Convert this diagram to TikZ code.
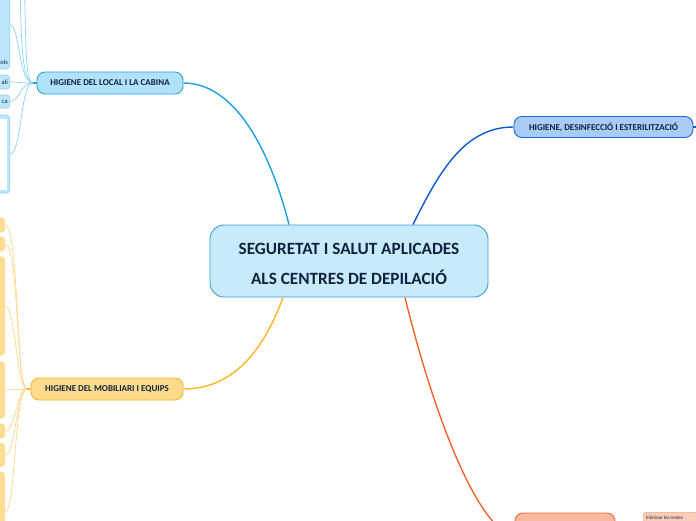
\documentclass[tikz,border=0pt]{standalone}
\usepackage{fontspec}
\setmainfont{Carlito}
\definecolor{cenfill}{HTML}{C8EBFB}
\definecolor{cenline}{HTML}{3D9ED8}
\definecolor{txt}{HTML}{10223F}
\definecolor{lbfill}{HTML}{B2E2FA}
\definecolor{lbline}{HTML}{2AA6E3}
\definecolor{lbconn}{HTML}{1BA1E2}
\definecolor{lbchild}{HTML}{8ED3F5}
\definecolor{lbcfill}{HTML}{BCE6FB}
\definecolor{yfill}{HTML}{FFDC8C}
\definecolor{yline}{HTML}{F8B62C}
\definecolor{yconn}{HTML}{FCB827}
\definecolor{ychild}{HTML}{FDD98E}
\definecolor{ycfill}{HTML}{FEDC92}
\definecolor{bfill}{HTML}{A8CCF6}
\definecolor{bline}{HTML}{1D6AD8}
\definecolor{bconn}{HTML}{0E5BD0}
\definecolor{ofill}{HTML}{FAB9A1}
\definecolor{oline}{HTML}{F26A3B}
\definecolor{oconn}{HTML}{F2642F}
\definecolor{ocfill}{HTML}{FBCDBB}
\tikzset{
  central/.style={draw=cenline, fill=cenfill, line width=0.9pt, rounded corners=14pt, text=txt, font=\bfseries\fontsize{17.2}{30.5}\selectfont, align=center, minimum width=278pt, minimum height=72pt, inner sep=0pt},
  branch/.style={rounded corners=8pt, line width=0.9pt, text=txt, font=\bfseries\fontsize{9}{10}\selectfont, minimum height=22pt, inner sep=0pt},
  mainconn/.style={line width=1.4pt},
  childconn/.style={line width=0.7pt},
  childbox/.style={rounded corners=3pt, line width=0.6pt},
  frag/.style={text=txt, font=\fontsize{6.5}{7}\selectfont, inner sep=0pt, anchor=east}
}
\begin{document}
\begin{tikzpicture}[x=1pt,y=-1pt]
\useasboundingbox (0,0) rectangle (696,520);
\clip (0,0) rectangle (696,520);
\fill[white] (0,0) rectangle (696,520);

% ---- main nodes
\node[central] (cen) at (349,261) {};
\node[text=txt, font=\bfseries\fontsize{17.2}{30.5}\selectfont, align=center, inner sep=0pt] (centxt) at (349,264) {SEGURETAT I SALUT APLICADES\\ALS CENTRES DE DEPILACIÓ};
\node[branch, draw=lbline, fill=lbfill, minimum width=146pt] (loc) at (110,83) {HIGIENE DEL LOCAL I LA CABINA};
\node[branch, draw=yline, fill=yfill, minimum width=152pt] (mob) at (107,389) {HIGIENE DEL MOBILIARI I EQUIPS};
\node[branch, draw=bline, fill=bfill, minimum width=179pt, minimum height=21pt] (des) at (603.5,127) {HIGIENE, DESINFECCIÓ I ESTERILITZACIÓ};
\node[branch, draw=oline, fill=ofill, minimum width=100pt, minimum height=44pt] (ora) at (565,535) {};

% ---- main connectors
\draw[mainconn, lbconn] ([xshift=-60pt]cen.north) .. controls (270,150) and (235,83) .. (loc.east);
\draw[mainconn, yconn] ([xshift=-66pt]cen.south) .. controls (262,355) and (230,389) .. (mob.east);
\draw[mainconn, bconn] ([xshift=64pt]cen.north) .. controls (440,170) and (465,127) .. (des.west);
\draw[mainconn, oconn] ([xshift=56pt]cen.south) .. controls (440,440) and (485,535) .. (ora.west);
\draw[mainconn, bconn] (des.east) -- ++(5,0);

% ---- left blue children
\coordinate (lj) at (33,83);
\draw[line width=1.3pt, lbconn] (loc.west) -- (lj);
\node[childbox, draw=lbchild, fill=lbcfill, minimum width=40pt, minimum height=100pt, anchor=east, inner sep=0pt] (lc1) at (10,19) {};
\node[childbox, draw=lbchild, fill=lbcfill, minimum width=40pt, minimum height=14pt, anchor=east, inner sep=0pt] (lc2) at (10,82) {};
\node[childbox, draw=lbchild, fill=lbcfill, minimum width=40pt, minimum height=13pt, anchor=east, inner sep=0pt] (lc3) at (10,101.5) {};
\node[childbox, draw=lbchild, fill=lbcfill, minimum width=40pt, minimum height=78pt, anchor=east, inner sep=0pt] (lc4) at (10,154) {};
\fill[white] (-5,119) rectangle (6.5,190);
\node[frag] (t1) at (8,62) {ols};
\node[frag] (t2) at (8,82.5) {ali};
\node[frag] (t3) at (8,101.5) {ca};
\coordinate (up1) at (20,-20);
\coordinate (up2) at (24,-30);
\coordinate (lc1e) at (10,25);
\draw[childconn, lbchild] (lj) .. controls (22,83) and (21,40) .. (up1);
\draw[childconn, lbchild] (lj) .. controls (25,83) and (26,40) .. (up2);
\draw[childconn, lbchild] (lj) .. controls (18,83) and (20,25) .. (lc1e);
\draw[childconn, lbchild] (lj) .. controls (20,83) and (20,82) .. (lc2.east);
\draw[childconn, lbchild] (lj) .. controls (20,83) and (20,101.5) .. (lc3.east);
\draw[childconn, lbchild] (lj) .. controls (20,83) and (22,154) .. (lc4.east);

% ---- left yellow children
\coordinate (yj) at (27,389);
\draw[line width=1.3pt, yconn] (mob.west) -- (yj);
\node[childbox, draw=ychild, fill=ycfill, minimum width=30pt, minimum height=14pt, anchor=east] (y1) at (5,225) {};
\node[childbox, draw=ychild, fill=ycfill, minimum width=30pt, minimum height=14pt, anchor=east] (y2) at (5,244) {};
\node[childbox, draw=ychild, fill=ycfill, minimum width=30pt, minimum height=98pt, anchor=east] (y3) at (5,306) {};
\node[childbox, draw=ychild, fill=ycfill, minimum width=30pt, minimum height=56pt, anchor=east] (y4) at (5,390) {};
\node[childbox, draw=ychild, fill=ycfill, minimum width=30pt, minimum height=14pt, anchor=east] (y5) at (5,431) {};
\node[childbox, draw=ychild, fill=ycfill, minimum width=30pt, minimum height=23pt, anchor=east] (y6) at (5,455) {};
\node[childbox, draw=ychild, fill=ycfill, minimum width=30pt, minimum height=80pt, anchor=east] (y7) at (5,512) {};
\draw[childconn, ychild] (yj) .. controls (16,389) and (19,225) .. (y1.east);
\draw[childconn, ychild] (yj) .. controls (16,389) and (19,244) .. (y2.east);
\draw[childconn, ychild] (yj) .. controls (16,389) and (16,306) .. (y3.east);
\draw[childconn, ychild] (yj) -- (y4.east);
\draw[childconn, ychild] (yj) .. controls (16,389) and (16,431) .. (y5.east);
\draw[childconn, ychild] (yj) .. controls (16,389) and (16,455) .. (y6.east);
\draw[childconn, ychild] (yj) .. controls (14,389) and (16,512) .. (y7.east);

% ---- orange child
\node[childbox, draw=oline!60, fill=ocfill, minimum width=60pt, minimum height=20pt, anchor=north west] (oc1) at (643,512) {};
\node[text=txt, font=\fontsize{5}{6}\selectfont, anchor=west, inner sep=0pt] (oct) at (646,517.5) {Eliminar les restes};
\end{tikzpicture}
\end{document}
